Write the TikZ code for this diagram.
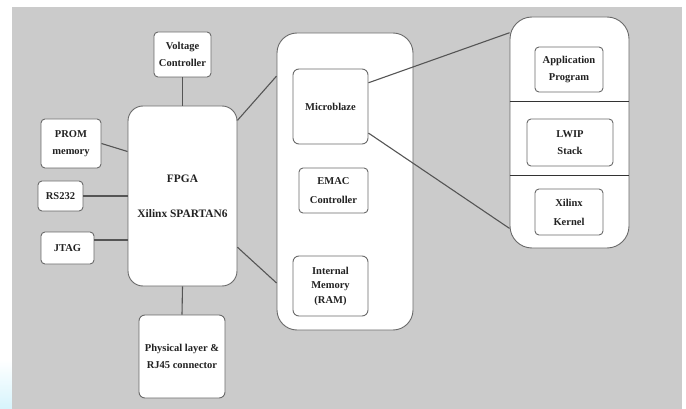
\documentclass[tikz,border=0pt]{standalone}
\usepackage{fontspec}
\setmainfont{Liberation Serif}
\definecolor{bg}{HTML}{CBCBCB}
\definecolor{boxgray}{HTML}{6A6A6A}
\definecolor{linegray}{HTML}{555555}
\definecolor{txt}{HTML}{222222}
\definecolor{glow}{HTML}{D6F4FC}
\begin{document}
\begin{tikzpicture}[x=1pt,y=-1pt,
  box/.style={draw=boxgray, line width=0.9pt, fill=white, rounded corners=4pt,
    font=\fontsize{10.5}{17}\selectfont\bfseries, text=txt, align=center, inner sep=0pt},
  bigbox/.style={box, rounded corners=16pt},
  link/.style={draw=linegray, line width=1.1pt}]
\useasboundingbox (0,0) rectangle (686,409);
\fill[white] (0,0) rectangle (686,409);
\shade[top color=white, bottom color=glow] (0,360) rectangle (12,409);
\fill[bg] (12,7) rectangle (682,409);

% left side
\node[box, minimum width=57pt, minimum height=45pt] (volt) at (182.5,54.5) {Voltage\\Controller};
\node[bigbox, rounded corners=15pt, minimum width=109pt, minimum height=180pt,
  font=\fontsize{11.4}{17}\selectfont\bfseries] (fpga) at (182.5,196) {FPGA\\[18pt]Xilinx SPARTAN6};
\node[box, minimum width=60pt, minimum height=49pt] (prom) at (71,143.5) {PROM\\memory};
\node[box, minimum width=45pt, minimum height=30pt] (rs) at (60.5,196) {RS232};
\node[box, minimum width=53pt, minimum height=32pt] (jtag) at (67.5,248) {JTAG};
\node[box, rounded corners=6pt, minimum width=86pt, minimum height=83pt] (phys) at (182,356.5) {Physical layer \&\\RJ45 connector};

% middle container
\node[bigbox, rounded corners=20pt, minimum width=136pt, minimum height=297pt] (mid) at (345,181.5) {};
\node[box, rounded corners=6pt, minimum width=75pt, minimum height=75pt] (mb) at (330.5,106.5) {Microblaze};
\node[box, minimum width=69pt, minimum height=45pt] (emac) at (333.5,190.5) {EMAC\\[2pt]Controller};
\node[box, rounded corners=6pt, minimum width=75pt, minimum height=60pt] (ram) at (330.5,286) {Internal\\[-3pt]Memory\\[-2pt](RAM)};

% right container
\node[bigbox, rounded corners=22pt, minimum width=119pt, minimum height=231pt] (sw) at (569.5,132.5) {};
\coordinate (d1l) at (510,101); \coordinate (d1r) at (629,101);
\coordinate (d2l) at (510,175); \coordinate (d2r) at (629,175);
\draw[draw=black!80, line width=0.9pt] (d1l -| sw.west) -- (d1r -| sw.east);
\draw[draw=black!80, line width=0.9pt] (d2l -| sw.west) -- (d2r -| sw.east);
\node[box, minimum width=68pt, minimum height=45pt] (app) at (569,69.5) {Application\\Program};
\node[box, minimum width=86pt, minimum height=47pt] (lwip) at (570,142.5) {LWIP\\Stack};
\node[box, minimum width=68pt, minimum height=46pt] (kern) at (569,212) {Xilinx\\[2pt]Kernel};

% connectors
\draw[link] (volt.south) -- (fpga.north);
\draw[link] (fpga.south) -- (phys.north);
\draw[link] (prom.east) -- (fpga.141);
\draw[link] (rs.east) -- (rs.east -| fpga.west);
\draw[link] ([yshift=8pt]jtag.east) -- ([yshift=8pt]jtag.east -| fpga.west);
\draw[link] (fpga.54) -- (mid.123);
\draw[link] (fpga.317) -- (mid.236);
\draw[link] (mb.32) -- (sw.121);
\draw[link] (mb.325) -- (sw.238);
\end{tikzpicture}
\end{document}
